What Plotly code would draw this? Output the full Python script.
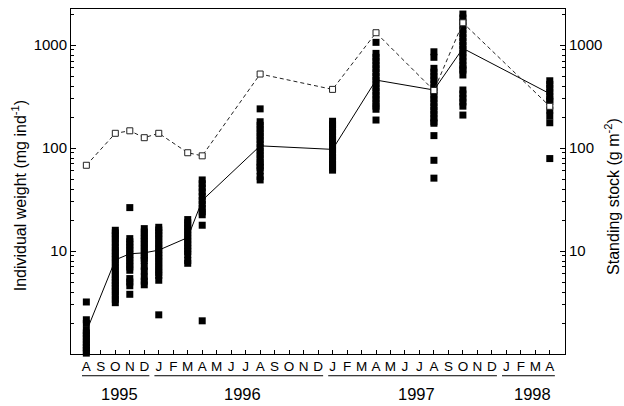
import plotly.graph_objects as go

# ---------------- data ----------------
month_labels = ["A", "S", "O", "N", "D",
                "J", "F", "M", "A", "M", "J", "J", "A", "S", "O", "N", "D",
                "J", "F", "M", "A", "M", "J", "J", "A", "S", "O", "N", "D",
                "J", "F", "M", "A"]
years = ["1995", "1996", "1997", "1998"]
year_start = [0, 5, 17, 29]
year_end = [4, 16, 28, 32]

# sampling dates (month index, Aug 1995 = 0)
dates = [0, 2, 3, 4, 5, 7, 8, 12, 17, 20, 24, 26, 32]

# mean individual weight (mg ind-1)
mean_weight = [1.65, 8.2, 9.4, 9.6, 10.2, 13.5, 31, 105, 97, 457, 366, 929, 337]
# standing stock (g m-2)
standing_stock = [68, 139, 147, 126, 139, 90, 84, 523, 371, 1317, 362, 1645, 254]

# individual weights per sampling date
w_aug95 = [3.2, 2.15, 1.98, 1.7, 1.6, 1.5, 1.4, 1.3, 1.22, 1.15, 1.08, 1.02]
w_oct95 = [15.9, 15, 14, 13, 12, 11, 10.2, 9.5, 8.8, 8.2, 7.6, 7, 6.5, 6, 5.6, 5.2,
           4.9, 4.6, 4.3, 4.0, 3.7, 3.4, 3.15]
w_nov95 = [26.4, 13.2, 12.3, 11.5, 10.7, 10, 9.3, 8.7, 8.1, 7.5, 7.0, 6.5, 5.4, 5.0,
           4.6, 3.8]
w_dec95 = [16.5, 15.3, 14.2, 13.2, 12.3, 11.4, 10.6, 9.8, 9.1, 8.5, 8.1, 7.1, 6.4,
           5.6, 5.1, 4.7]
w_jan96 = [17, 16, 15, 14, 13, 12, 11.2, 10.4, 9.7, 9, 8.4, 7.8, 7.2, 6.7, 6.2, 5.8,
           5.2, 2.4]
w_mar96 = [20.2, 18.8, 17.5, 16.3, 15.2, 14.1, 13.1, 12.2, 11.4, 10.6, 9.9, 9.2, 8.1,
           7.6]
w_apr96 = [49, 45, 41, 37.5, 34, 31, 28.5, 26, 24, 22.5, 17.8, 2.1]
w_aug96 = [240, 180, 166, 153, 141, 130, 120, 110, 101, 93, 86, 79, 73, 68, 65, 60,
           53, 49]
w_jan97 = [182, 168, 155, 143, 132, 122, 113, 104, 96, 89, 82, 76, 70, 65, 61]
w_apr97 = [1062, 830, 760, 700, 640, 590, 540, 495, 455, 420, 385, 355, 325, 300, 275,
           255, 238, 187]
w_aug97 = [860, 760, 594, 545, 500, 460, 420, 385, 355, 325, 300, 275, 252, 232, 213,
           196, 180, 174, 132, 76, 51]
w_oct97 = [2000, 1830, 1680, 1540, 1410, 1290, 1180, 1080, 990, 910, 835, 765, 700,
           640, 590, 571, 512, 366, 335, 305, 280, 255, 209]
w_apr98 = [450, 415, 380, 350, 320, 295, 282, 234, 205, 176, 79]

individuals = [w_aug95, w_oct95, w_nov95, w_dec95, w_jan96, w_mar96, w_apr96,
               w_aug96, w_jan97, w_apr97, w_aug97, w_oct97, w_apr98]

# ---------------- figure ----------------
ind_x, ind_y = [], []
for d, vals in zip(dates, individuals):
    ind_x += [d] * len(vals)
    ind_y += vals

FONT = "Liberation Sans, Arial, Helvetica, sans-serif"

fig = go.Figure()

fig.add_trace(go.Scatter(
    x=ind_x, y=ind_y, mode="markers",
    marker=dict(symbol="square", size=7, color="black", line=dict(width=0)),
    showlegend=False, cliponaxis=False,
))
fig.add_trace(go.Scatter(
    x=dates, y=mean_weight, mode="lines",
    line=dict(color="black", width=1),
    showlegend=False,
))
fig.add_trace(go.Scatter(
    x=dates, y=standing_stock, mode="lines+markers", yaxis="y2",
    line=dict(color="#222222", width=1, dash="4px,3px"),
    marker=dict(symbol="square", size=6, color="white",
                line=dict(color="#222222", width=1)),
    showlegend=False,
))

minor_vals = [m * 10 ** e for e in range(0, 4) for m in range(2, 10)]

yaxis_common = dict(
    type="log", range=[0, 3.35],
    tickvals=[10, 100, 1000], ticktext=["10", "100", "1000"],
    ticks="inside", ticklen=5, tickwidth=1, tickcolor="black",
    minor=dict(tickvals=minor_vals, ticks="inside", ticklen=3,
               tickwidth=1, tickcolor="black", showgrid=False),
    showline=True, linecolor="black", linewidth=1,
    showgrid=False, zeroline=False,
    tickfont=dict(family=FONT, size=15, color="black"),
)

fig.update_layout(
    width=624, height=406,
    margin=dict(l=71, r=59, t=9, b=52),
    paper_bgcolor="white", plot_bgcolor="white",
    font=dict(family=FONT, color="black"),
    xaxis=dict(
        range=[-1.06, 33.05],
        tickvals=list(range(len(month_labels))), ticktext=month_labels,
        ticks="inside", ticklen=4, tickwidth=1, tickcolor="black",
        showline=True, linecolor="black", linewidth=1, mirror=True,
        showgrid=False, zeroline=False,
        tickfont=dict(family=FONT, size=13.5, color="black"),
        tickangle=0,
    ),
    yaxis=dict(**yaxis_common),
    yaxis2=dict(**yaxis_common, overlaying="y", side="right"),
)

# year labels and underlines
for name, s, e in zip(years, year_start, year_end):
    fig.add_shape(type="line", xref="x", yref="paper",
                  x0=s - 0.3, x1=e + 0.35, y0=-0.063, y1=-0.063,
                  line=dict(color="black", width=1))
    fig.add_annotation(x=(s + e) / 2 + 0.3, y=-0.116, xref="x", yref="paper",
                       text=name, showarrow=False, yanchor="middle",
                       font=dict(family=FONT, size=16.5, color="black"))

# axis titles
fig.add_annotation(x=-0.1046, y=0.458, xref="paper", yref="paper",
                   text="Individual weight (mg ind<sup>-1</sup>)", textangle=-90,
                   showarrow=False, xanchor="center", yanchor="middle",
                   font=dict(family=FONT, size=16, color="black"))
fig.add_annotation(x=1.095, y=0.458, xref="paper", yref="paper",
                   text="Standing stock (g m<sup>-2</sup>)", textangle=-90,
                   showarrow=False, xanchor="center", yanchor="middle",
                   font=dict(family=FONT, size=16, color="black"))

fig.write_html(
    "out.html",
    config={"displayModeBar": False},
    post_script="document.body.style.margin='0';document.body.style.overflow='hidden';",
)
